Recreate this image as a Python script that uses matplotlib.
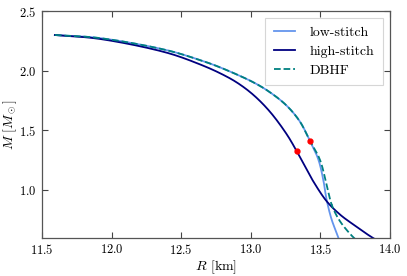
import numpy as np
import matplotlib
matplotlib.use("Agg")
import matplotlib.pyplot as plt

plt.rcParams['font.family'] = 'serif'
plt.rcParams['font.serif'] = ['cmr10', 'DejaVu Serif']
plt.rcParams['mathtext.fontset'] = 'cm'
plt.rcParams['axes.formatter.use_mathtext'] = True

# mass-radius curves (R in km, M in solar masses)
r_low = [11.593, 11.917, 12.396, 12.635, 12.779, 13.018, 13.138, 13.258, 13.353,
         13.425, 13.485, 13.521, 13.545, 13.581, 13.629, 13.645]
m_low = [2.299, 2.273, 2.172, 2.089, 2.028, 1.903, 1.819, 1.707, 1.574,
         1.413, 1.258, 1.087, 0.920, 0.753, 0.604, 0.55]

r_high = [11.593, 11.917, 12.396, 12.635, 12.779, 12.899, 13.018, 13.138, 13.258,
          13.330, 13.402, 13.449, 13.545, 13.641, 13.736, 13.869, 13.92]
m_high = [2.299, 2.266, 2.151, 2.053, 1.979, 1.902, 1.798, 1.656, 1.468,
          1.326, 1.171, 1.073, 0.906, 0.794, 0.711, 0.604, 0.57]

r_dbhf = [11.593, 11.917, 12.396, 12.635, 12.779, 13.018, 13.138, 13.258, 13.353,
          13.425, 13.497, 13.545, 13.581, 13.641, 13.736, 13.76]
m_dbhf = [2.299, 2.273, 2.172, 2.089, 2.028, 1.903, 1.819, 1.707, 1.574,
          1.413, 1.254, 1.045, 0.878, 0.738, 0.604, 0.58]

# red markers on the stitch curves
dots_r = [13.33, 13.425]
dots_m = [1.326, 1.413]


def catmull(r, m, n=30):
    # centripetal catmull-rom through the read points (scaled to pixel-ish units)
    p = np.column_stack([np.array(r) * 139.2, np.array(m) * 119.6])
    p = np.vstack([2 * p[0] - p[1], p, 2 * p[-1] - p[-2]])
    out = []
    for i in range(1, len(p) - 2):
        p0, p1, p2, p3 = p[i - 1], p[i], p[i + 1], p[i + 2]
        t0 = 0.0
        t1 = t0 + np.linalg.norm(p1 - p0) ** 0.5
        t2 = t1 + np.linalg.norm(p2 - p1) ** 0.5
        t3 = t2 + np.linalg.norm(p3 - p2) ** 0.5
        t = np.linspace(t1, t2, n)[:, None]
        a1 = (t1 - t) / (t1 - t0) * p0 + (t - t0) / (t1 - t0) * p1
        a2 = (t2 - t) / (t2 - t1) * p1 + (t - t1) / (t2 - t1) * p2
        a3 = (t3 - t) / (t3 - t2) * p2 + (t - t2) / (t3 - t2) * p3
        b1 = (t2 - t) / (t2 - t0) * a1 + (t - t0) / (t2 - t0) * a2
        b2 = (t3 - t) / (t3 - t1) * a2 + (t - t1) / (t3 - t1) * a3
        c = (t2 - t) / (t2 - t1) * b1 + (t - t1) / (t2 - t1) * b2
        out.append(c)
    out = np.vstack(out)
    return out[:, 0] / 139.2, out[:, 1] / 119.6


fig = plt.figure(figsize=(4.07, 2.76), dpi=100)
ax = fig.add_axes([0.103, 0.139, 0.855, 0.821])

x, y = catmull(r_low, m_low)
ax.plot(x, y, color='#6495ED', lw=1.3, label='low-stitch')
x, y = catmull(r_high, m_high)
ax.plot(x, y, color='#000080', lw=1.3, label='high-stitch')
x, y = catmull(r_dbhf, m_dbhf)
ax.plot(x, y, color='#008080', lw=1.3, ls='--', label='DBHF')
ax.plot(dots_r, dots_m, 'o', color='red', ms=3.5, zorder=5)

ax.set_xlim(11.5, 14.0)
ax.set_ylim(0.6, 2.5)
ax.set_xticks([11.5, 12.0, 12.5, 13.0, 13.5, 14.0])
ax.set_yticks([1.0, 1.5, 2.0, 2.5])
ax.tick_params(direction='in', top=True, right=True, length=4, labelsize=9,
               color='#444444', pad=4)
for s in ax.spines.values():
    s.set_color('#555555')
    s.set_linewidth(0.9)

ax.set_xlabel(r'$R$ [km]', fontsize=10, labelpad=1)
ax.set_ylabel(r'$M\ [M_\odot]$', fontsize=10, labelpad=0)

leg = ax.legend(loc='upper right', fontsize=10, fancybox=False, handlelength=1.5,
                handletextpad=1.1, borderpad=0.6, labelspacing=0.45,
                borderaxespad=0.5)
leg.get_frame().set_edgecolor('#cccccc')
leg.get_frame().set_linewidth(0.8)

fig.savefig('out.png', dpi=100)
